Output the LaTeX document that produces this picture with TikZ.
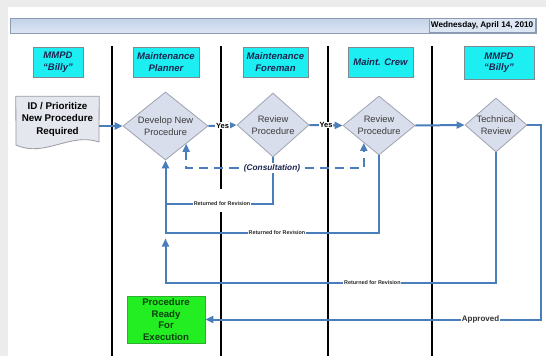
\documentclass[tikz,border=0pt]{standalone}
\usepackage{fontspec}
\setmainfont{Liberation Sans}
\usetikzlibrary{arrows.meta,shapes.geometric,calc}
\definecolor{bggray}{HTML}{ECECEC}
\definecolor{hdtop}{HTML}{C2D1E9}
\definecolor{hdbot}{HTML}{DDE6F3}
\definecolor{hddraw}{HTML}{8C9AB2}
\definecolor{lanefill}{HTML}{1CEEF2}
\definecolor{lanedraw}{HTML}{7F8A90}
\definecolor{lanetext}{HTML}{1B2550}
\definecolor{diafill}{HTML}{D9DEEC}
\definecolor{diadraw}{HTML}{9EA3B2}
\definecolor{diatext}{HTML}{3C3C3C}
\definecolor{flowblue}{HTML}{4A7EBB}
\definecolor{docfill}{HTML}{E5E7EE}
\definecolor{docdraw}{HTML}{9A9AA5}
\definecolor{readyfill}{HTML}{22EE22}
\definecolor{readydraw}{HTML}{2EB02E}
\definecolor{readytext}{HTML}{0E3F0E}
\begin{document}
\begin{tikzpicture}[x=1pt,y=-1pt,
  lanebox/.style={draw=lanedraw, line width=0.6pt, fill=lanefill, text=lanetext,
    font=\bfseries\itshape\fontsize{9.5}{11.5}\selectfont, align=center,
    inner sep=0pt, minimum height=30pt},
  laneline/.style={line width=2.3pt, black},
  dia/.style={diamond, draw=diadraw, line width=0.8pt, fill=diafill, text=diatext,
    font=\fontsize{9.3}{12}\selectfont, align=center, inner sep=-4pt},
  flow/.style={draw=flowblue, line width=2pt},
  tip/.style={-{Triangle[length=8pt,width=7pt]}},
  yeslbl/.style={fill=white, inner sep=0.6pt, text=black, font=\bfseries\fontsize{7.5}{8}\selectfont},
  retlbl/.style={fill=white, inner sep=0.8pt, text=black!85, font=\bfseries\fontsize{5.4}{6}\selectfont},
  consult/.style={draw=flowblue, line width=2pt, dash pattern=on 9pt off 6pt},
  consultlbl/.style={fill=white, inner sep=1.5pt, text=lanetext, font=\bfseries\itshape\fontsize{8.3}{9}\selectfont},
  readybox/.style={draw=readydraw, line width=0.8pt, fill=readyfill, text=readytext,
    font=\bfseries\fontsize{9.6}{11.8}\selectfont, align=center, inner sep=0pt,
    minimum width=78pt, minimum height=47pt}
]
\useasboundingbox (0,0) rectangle (546,356);
\fill[white] (0,0) rectangle (546,356);
\fill[bggray] (0,0) rectangle (546,7);
\fill[bggray] (0,0) rectangle (8,356);

% header bar
\shadedraw[top color=hdtop, bottom color=hdbot, draw=hddraw, line width=0.6pt] (10.5,18) rectangle (536,33);
\node[anchor=east, draw=hddraw, line width=0.6pt, fill=hdbot, inner sep=2pt, minimum height=14pt,
  font=\bfseries\fontsize{8.2}{9}\selectfont] (date) at (535.5,25.5) {Wednesday, April 14, 2010};

% lane headers
\node[lanebox, minimum width=50pt] (l1) at (58,62) {MMPD\\“Billy”};
\node[lanebox, minimum width=66pt] (l2) at (166,62) {Maintenance\\Planner};
\node[lanebox, minimum width=65pt] (l3) at (275.5,62) {Maintenance\\Foreman};
\node[lanebox, minimum width=65pt] (l4) at (380.5,62) {Maint. Crew};
\node[lanebox, minimum width=70pt, minimum height=33pt] (l5) at (499,62.5) {MMPD\\“Billy”};

% lane lines
\draw[laneline] (112,46) -- (112,356);
\draw[laneline] (221,46) -- (221,189);
\draw[laneline] (221,212) -- (221,356);
\draw[laneline] (328,46) -- (328,356);
\draw[laneline] (432,46) -- (432,356);

% document shape
\node[inner sep=0pt, minimum width=83pt, minimum height=45pt] (doc) at (57.5,119) {};
\draw[draw=docdraw, fill=docfill, line width=0.8pt] (doc.north west) -- (doc.north east) -- (99,142)
  .. controls (70,132) and (45,158) .. (16,145) -- cycle;
\node[font=\bfseries\fontsize{9.8}{12.5}\selectfont, align=center, inner sep=0pt] (doctext) at (doc.center) {ID / Prioritize\\New Procedure\\Required};

% diamonds
\node[dia, minimum width=85pt, minimum height=68pt] (d1) at (165.5,126) {Develop New\\Procedure};
\node[dia, minimum width=72pt, minimum height=64pt] (d2) at (273,125) {Review\\Procedure};
\node[dia, minimum width=72pt, minimum height=59pt] (d3) at (379,125.5) {Review\\Procedure};
\node[dia, minimum width=62pt, minimum height=54pt] (d4) at (496,125) {Technical\\Review};

% ready box
\node[readybox] (ready) at (166,319.5) {Procedure\\Ready\\For\\Execution};

% coordinates
\coordinate (c1) at (165.5,204);
\coordinate (c2) at (165.5,233);
\coordinate (c3) at (165.5,283);
\coordinate (j3) at (165.5,238.5);
\coordinate (cy) at (0,168);
\coordinate (e1) at ($(d1.east)!0.518!(d1.south)$);
\coordinate (e3) at ($(d3.west)!0.583!(d3.south)$);
\coordinate (rt) at (541,125);

% main flow
\draw[flow, tip] (doc.east |- d1.west) -- (d1.west);
\draw[flow, tip] (d1.east) -- node[yeslbl] {Yes} (d2.west);
\draw[flow, tip] (d2.east) -- node[yeslbl] {Yes} (d3.west);
\draw[flow, tip] (d3.east) -- (d4.west);
\draw[flow, tip] (d4.east) -- (rt) |- node[pos=0.59, yeslbl, font=\bfseries\fontsize{8}{9}\selectfont, text=black!80] {Approved} (ready.east);

% returned for revision loops
\draw[flow] (d2.south) |- node[pos=0.737, retlbl] {Returned for Revision} (c1);
\draw[flow, tip] (d3.south) |- node[pos=0.739, retlbl] {Returned for Revision} (c2) -- (d1.south);
\draw[flow, tip] (d4.south) |- node[pos=0.687, retlbl] {Returned for Revision} (c3) -- (j3);

% consultation
\draw[consult, {Triangle[length=8pt,width=7pt]}-{Triangle[length=8pt,width=7pt]}]
  (e1) -- (e1 |- cy) -- (e3 |- cy) -- (e3);
\node[consultlbl] (cons) at (272,168) {(Consultation)};
\end{tikzpicture}
\end{document}
